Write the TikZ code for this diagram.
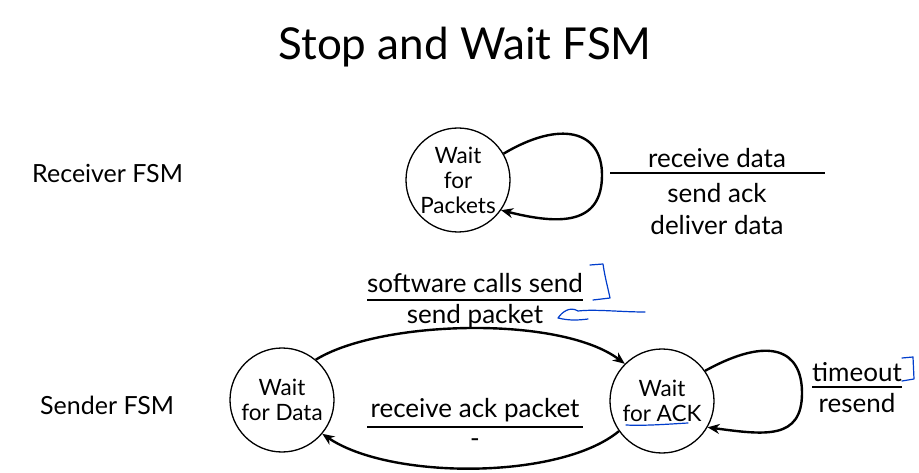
\documentclass[tikz,border=0pt]{standalone}
\usepackage{fontspec}
\setmainfont{Lato}
\usetikzlibrary{arrows.meta}
\begin{document}
\begin{tikzpicture}[x=1pt,y=-1pt,
  state/.style={draw,circle,line width=1.3pt,minimum size=104pt,inner sep=0pt,align=center,font=\fontsize{22.5}{25}\selectfont},
  trans/.style={line width=2.4pt,-{Stealth[length=12pt,width=10pt]}},
  lbl/.style={font=\fontsize{26}{28}\selectfont,inner sep=0pt},
  big/.style={font=\fontsize{25}{28}\selectfont,inner sep=0pt},
  bar/.style={line width=1.3pt},
  ink/.style={draw=blue!70!cyan!80!black,line width=1.2pt,line cap=round,line join=round}]
\useasboundingbox[fill=white] (0,0) rectangle (919,473);
\node[font=\fontsize{44}{48}\selectfont] (title) at (465,47) {Stop and Wait FSM};
\node[big,anchor=west] (rlab) at (32,173) {Receiver FSM};
\node[big,anchor=west] (slab) at (40,405) {Sender FSM};
% receiver
\node[state] (wp) at (458,180) {Wait\\for\\Packets};
\draw[trans] (wp.30) .. controls (560,120) and (602,130) .. (602,175) .. controls (602,225) and (560,225) .. (wp.-35);
\node[lbl] (rd) at (717,158) {receive data};
\coordinate (rb1) at (610,173); \coordinate (rb2) at (825,173);
\draw[bar] (rb1) -- (rb2);
\node[lbl] (sa) at (717,193) {send ack};
\node[lbl] (dd) at (717,225) {deliver data};
% sender
\node[state] (wd) at (282,400) {Wait\\for Data};
\node[state] (wa) at (662,401) {Wait\\for ACK};
\draw[trans] (wd.50) .. controls (380,320) and (560,315) .. (wa.135);
\draw[trans] (wa.-145) .. controls (560,480) and (390,480) .. (wd.-40);
\draw[trans] (wa.35) .. controls (770,335) and (802,350) .. (802,393) .. controls (802,440) and (765,435) .. (wa.-30);
\node[lbl] (scs) at (475,283) {software calls send};
\coordinate (sb1) at (367,300); \coordinate (sb2) at (583,300);
\draw[bar] (sb1) -- (sb2);
\node[lbl] (sp) at (475,316) {send packet};
\node[lbl] (rap) at (475,410) {receive ack packet};
\coordinate (ab1) at (367,427); \coordinate (ab2) at (583,427);
\draw[bar] (ab1) -- (ab2);
\node[lbl] (dash) at (475,443) {-};
\node[lbl] (to) at (857,372) {timeout};
\coordinate (tb1) at (812,387); \coordinate (tb2) at (902,387);
\draw[bar] (tb1) -- (tb2);
\node[lbl] (rs) at (857,403) {resend};
% blue ink annotations
\draw[ink] (590,265) -- (603,264) .. controls (605,278) and (608,288) .. (610,298) -- (593,300);
\draw[ink] (645,312) .. controls (620,312) and (595,309) .. (578,311) .. controls (570,306) and (562,312) .. (558,318) .. controls (570,321) and (580,320) .. (588,319);
\draw[ink] (626,425) .. controls (645,426) and (670,424) .. (688,423);
\draw[ink] (902,358) -- (913,357) -- (914,379) -- (902,381);
\end{tikzpicture}
\end{document}
